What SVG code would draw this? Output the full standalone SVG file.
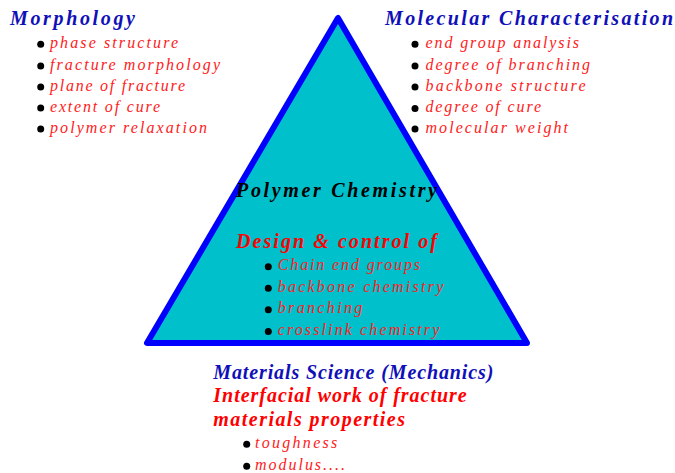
<svg xmlns="http://www.w3.org/2000/svg" width="675" height="473" viewBox="0 0 675 473">
<style>
text{font-family:"Liberation Serif","Times New Roman",serif;font-style:italic}
.h{font-weight:bold;font-size:20px}
.blue{fill:#1010B8}
.red{fill:#FF0000}
.blk{fill:#000000}
.b{font-size:16px;fill:#FF2020}
.dot{fill:#000000}
</style>
<rect width="675" height="473" fill="#FFFFFF"/>
<g id="connectors"/>
<g id="triangle">
<polygon points="338,18 147,343 527,343" fill="#00C0CC" stroke="#0000FF" stroke-width="6" stroke-linejoin="round"/>
</g>
<g id="morphology">
<text class="h blue" x="10" y="25" textLength="125" lengthAdjust="spacing">Morphology</text>
<circle class="dot" cx="40.7" cy="44.3" r="3.5"/>
<circle class="dot" cx="40.7" cy="66" r="3.5"/>
<circle class="dot" cx="40.7" cy="87" r="3.5"/>
<circle class="dot" cx="40.7" cy="108" r="3.5"/>
<circle class="dot" cx="40.7" cy="129" r="3.5"/>
<text class="b" x="50" y="48.3" textLength="128" lengthAdjust="spacing">phase structure</text>
<text class="b" x="50" y="70" textLength="170" lengthAdjust="spacing">fracture morphology</text>
<text class="b" x="50" y="91" textLength="135" lengthAdjust="spacing">plane of fracture</text>
<text class="b" x="50" y="112" textLength="110" lengthAdjust="spacing">extent of cure</text>
<text class="b" x="50" y="133" textLength="157" lengthAdjust="spacing">polymer relaxation</text>
</g>
<g id="molecular">
<text class="h blue" x="385" y="25" textLength="288" lengthAdjust="spacing">Molecular Characterisation</text>
<circle class="dot" cx="415" cy="44.3" r="3.5"/>
<circle class="dot" cx="415" cy="66" r="3.5"/>
<circle class="dot" cx="415" cy="87" r="3.5"/>
<circle class="dot" cx="415" cy="108.5" r="3.5"/>
<circle class="dot" cx="415" cy="129" r="3.5"/>
<text class="b" x="425.5" y="48.3" textLength="153.5" lengthAdjust="spacing">end group analysis</text>
<text class="b" x="425.5" y="69.5" textLength="164.5" lengthAdjust="spacing">degree of branching</text>
<text class="b" x="425.5" y="91" textLength="160" lengthAdjust="spacing">backbone structure</text>
<text class="b" x="425.5" y="112.3" textLength="115.5" lengthAdjust="spacing">degree of cure</text>
<text class="b" x="425.5" y="133" textLength="142.5" lengthAdjust="spacing">molecular weight</text>
</g>
<g id="polymer-chemistry">
<text class="h blk" x="236" y="197.3" textLength="201" lengthAdjust="spacing">Polymer Chemistry</text>
<text class="h red" x="236" y="247.5" textLength="201" lengthAdjust="spacing">Design &amp; control of</text>
<circle class="dot" cx="268.3" cy="266.7" r="3.5"/>
<circle class="dot" cx="268.3" cy="288.3" r="3.5"/>
<circle class="dot" cx="268.3" cy="309.8" r="3.5"/>
<circle class="dot" cx="268.3" cy="331.5" r="3.5"/>
<text class="b" x="277.7" y="270" textLength="142.3" lengthAdjust="spacing">Chain end groups</text>
<text class="b" x="277.7" y="291.7" textLength="165.6" lengthAdjust="spacing">backbone chemistry</text>
<text class="b" x="277.7" y="313.3" textLength="84.6" lengthAdjust="spacing">branching</text>
<text class="b" x="277.7" y="335" textLength="161.6" lengthAdjust="spacing">crosslink chemistry</text>
</g>
<g id="materials-science">
<text class="h blue" x="213.3" y="379" textLength="280" lengthAdjust="spacing">Materials Science (Mechanics)</text>
<text class="h red" x="213.3" y="401.7" textLength="253.4" lengthAdjust="spacing">Interfacial work of fracture</text>
<text class="h red" x="213.3" y="426" textLength="191.7" lengthAdjust="spacing">materials properties</text>
<circle class="dot" cx="246.7" cy="444.3" r="3.5"/>
<circle class="dot" cx="246.7" cy="466.3" r="3.5"/>
<text class="b" x="255" y="448.3" textLength="82.3" lengthAdjust="spacing">toughness</text>
<text class="b" x="255" y="470" textLength="90" lengthAdjust="spacing">modulus....</text>
</g>
</svg>
